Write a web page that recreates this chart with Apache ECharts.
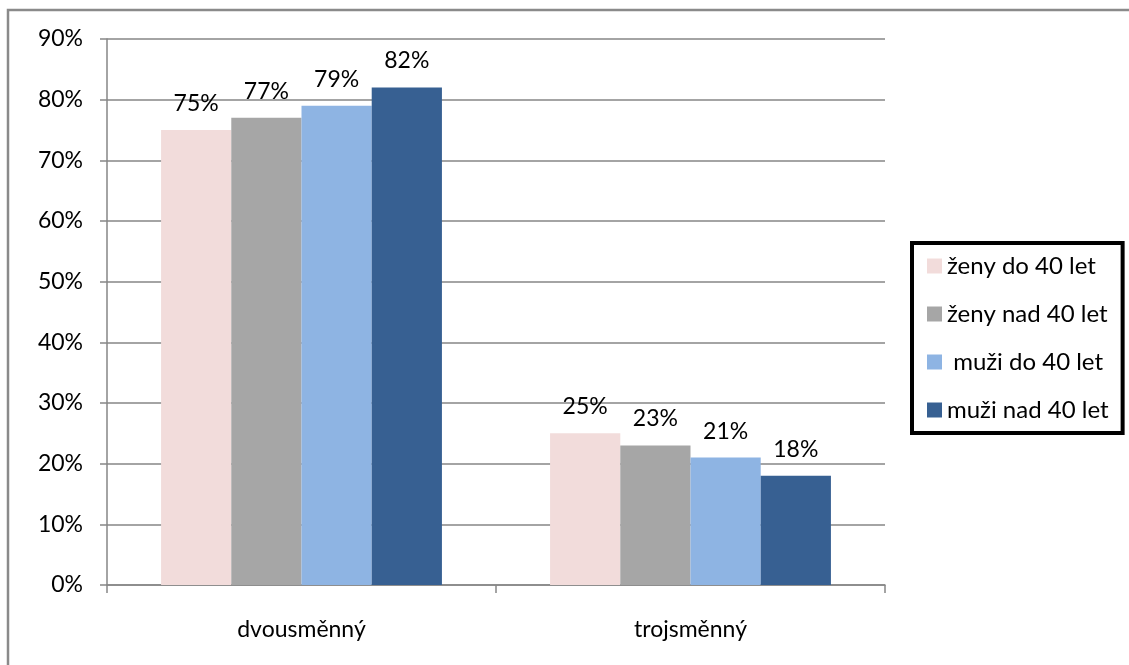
<!DOCTYPE html>
<html>
<head>
<meta charset="utf-8">
<script src="https://cdn.jsdelivr.net/npm/echarts@6/dist/echarts.min.js"></script>
<style>
  html, body { margin: 0; padding: 0; background: #fff; }
  #chart { width: 1129px; height: 665px; }
</style>
</head>
<body>
<div id="chart"></div>
<script>
// Shift type categories
const categories = ['dvousměnný', 'trojsměnný'];

// Share of respondents per group (percent)
const seriesNames = ['ženy do 40 let', 'ženy nad 40 let', ' muži do 40 let', 'muži nad 40 let'];
const zenyDo40 = [75, 25];
const zenyNad40 = [77, 23];
const muziDo40 = [79, 21];
const muziNad40 = [82, 18];

const seriesColors = ['#F2DCDB', '#A6A6A6', '#8EB4E3', '#376092'];
const seriesValues = [zenyDo40, zenyNad40, muziDo40, muziNad40];

const FONT = 'Lato';
const FS = 23;

const chart = echarts.init(document.getElementById('chart'), null, { renderer: 'canvas' });

chart.setOption({
  animation: false,
  backgroundColor: '#ffffff',
  textStyle: { fontFamily: FONT },
  graphic: [{
    type: 'rect',
    shape: { x: 8, y: 10, width: 1200, height: 700 },
    style: { fill: 'none', stroke: '#8a8a8a', lineWidth: 2.5 },
    silent: true,
    z: 100
  }],
  grid: { left: 107, right: 244, top: 39, bottom: 80, containLabel: false },
  legend: {
    orient: 'vertical',
    left: 912,
    top: 243,
    padding: [11, 14, 11, 15],
    itemGap: 24,
    itemWidth: 15,
    itemHeight: 15,
    borderColor: '#000',
    borderWidth: 4,
    backgroundColor: '#fff',
    icon: 'rect',
    textStyle: { fontFamily: FONT, fontSize: 24, color: '#000', lineHeight: 24, padding: [0, 0, 0, 0] },
    data: seriesNames
  },
  xAxis: {
    type: 'category',
    data: categories,
    axisLine: { lineStyle: { color: '#868686', width: 1.5 } },
    axisTick: { show: true, length: 8, lineStyle: { color: '#868686', width: 1.5 } },
    axisLabel: { fontFamily: FONT, fontSize: FS, color: '#000', margin: 33 }
  },
  yAxis: {
    type: 'value',
    min: 0,
    max: 90,
    interval: 10,
    axisLine: { show: true, lineStyle: { color: '#868686', width: 1.5 } },
    axisTick: { show: true, length: 7, lineStyle: { color: '#868686', width: 1.5 } },
    splitLine: { show: true, lineStyle: { color: '#868686', width: 1.5 } },
    axisLabel: { fontFamily: FONT, fontSize: FS, color: '#000', margin: 24, formatter: '{value}%' }
  },
  series: seriesNames.map((name, i) => ({
    name: name,
    type: 'bar',
    data: seriesValues[i],
    barGap: '0%',
    barCategoryGap: '27.8%',
    itemStyle: { color: seriesColors[i] },
    label: {
      show: true,
      position: 'top',
      distance: 15,
      formatter: '{c}%',
      fontFamily: FONT,
      fontSize: FS,
      color: '#000'
    }
  }))
});
</script>
</body>
</html>
